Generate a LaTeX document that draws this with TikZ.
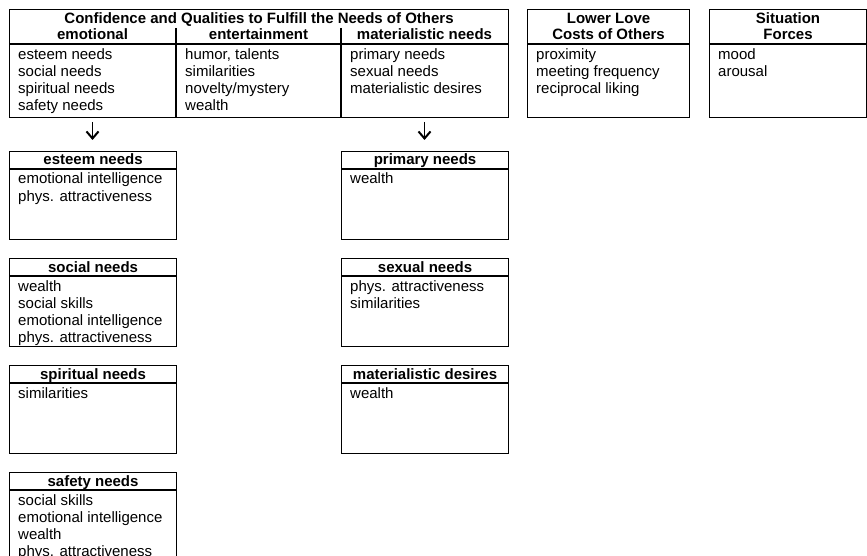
\documentclass[tikz,border=0pt]{standalone}
\usepackage{fontspec}
\setmainfont{Liberation Sans}
\usetikzlibrary{calc,arrows.meta}
\tikzset{
 frame/.style={draw=black, line width=1.1pt, rectangle, inner sep=0pt, anchor=north west},
 ttl/.style={font=\fontsize{15}{17}\selectfont\bfseries, inner sep=0pt, anchor=base},
 itm/.style={font=\fontsize{15}{17}\selectfont, inner sep=0pt, anchor=base west},
 rule/.style={draw=black, line width=1.1pt},
 downarrow/.style={draw=black, line width=1.5pt, -{Straight Barb[length=7pt,width=12pt,line width=2pt]}}
}
\newcommand\needbox[5]{%
 \node[frame, minimum width=167pt, minimum height=88pt] (#1) at (#2,#3) {};
 \node[ttl] (#1t) at ($(#1.north)+(0,14)$) {#4};
 \draw[rule] ($(#1.north west)+(0,18)$) -- ($(#1.north east)+(0,18)$);
 \foreach \s [count=\k] in {#5} {\node[itm] (#1i\k) at ($(#1.north west)+(9,33+17*\k-17)$) {\s};}
}
\begin{document}
\begin{tikzpicture}[x=1pt,y=-1pt]
\useasboundingbox (0,0) rectangle (867,556);
\clip (0,0) rectangle (867,556);
% top main box
\node[frame, minimum width=499pt, minimum height=108pt] (conf) at (9,9) {};
\node[ttl] (conft) at ($(conf.north)+(0,14.5)$) {Confidence and Qualities to Fulfill the Needs of Others};
\draw[rule] ($(conf.north west)+(167,19)$) -- ($(conf.south west)+(167,0)$);
\draw[rule] ($(conf.north west)+(332,19)$) -- ($(conf.south west)+(332,0)$);
\draw[rule] ($(conf.north west)+(0,35)$) -- ($(conf.north east)+(0,35)$);
\node[ttl] (h1) at ($(conf.north west)+(83.5,31)$) {emotional};
\node[ttl] (h2) at ($(conf.north west)+(249.5,31)$) {entertainment};
\node[ttl] (h3) at ($(conf.north west)+(415.5,31)$) {materialistic needs};
\foreach \s [count=\k] in {esteem needs, social needs, spiritual needs, safety needs}
  {\node[itm] (ca\k) at ($(conf.north west)+(9,50.5+17*\k-17)$) {\s};}
\foreach \s [count=\k] in {{humor, talents}, similarities, novelty/mystery, wealth}
  {\node[itm] (cb\k) at ($(conf.north west)+(176,50.5+17*\k-17)$) {\s};}
\foreach \s [count=\k] in {primary needs, sexual needs, materialistic desires}
  {\node[itm] (cc\k) at ($(conf.north west)+(341,50.5+17*\k-17)$) {\s};}
% lower love box
\node[frame, minimum width=162pt, minimum height=108pt] (love) at (527,9) {};
\node[ttl] (lovet1) at ($(love.north)+(0,14.5)$) {Lower Love};
\node[ttl] (lovet2) at ($(love.north)+(0,31)$) {Costs of Others};
\draw[rule] ($(love.north west)+(0,35)$) -- ($(love.north east)+(0,35)$);
\foreach \s [count=\k] in {proximity, meeting frequency, reciprocal liking}
  {\node[itm] (lv\k) at ($(love.north west)+(9,50.5+17*\k-17)$) {\s};}
% situation box
\node[frame, minimum width=157pt, minimum height=108pt] (sit) at (709,9) {};
\node[ttl] (sitt1) at ($(sit.north)+(0,14.5)$) {Situation};
\node[ttl] (sitt2) at ($(sit.north)+(0,31)$) {Forces};
\draw[rule] ($(sit.north west)+(0,35)$) -- ($(sit.north east)+(0,35)$);
\foreach \s [count=\k] in {mood, arousal}
  {\node[itm] (st\k) at ($(sit.north west)+(9,50.5+17*\k-17)$) {\s};}
% arrows
\coordinate (a1s) at (92.5,122);
\coordinate (a1e) at (92.5,140);
\coordinate (a2s) at (424.5,122);
\coordinate (a2e) at (424.5,140);
\draw[downarrow] (a1s) -- (a1e);
\draw[downarrow] (a2s) -- (a2e);
% lower boxes
\needbox{esteem}{9}{151}{esteem needs}{emotional intelligence, phys. attractiveness}
\needbox{social}{9}{258}{social needs}{wealth, social skills, emotional intelligence, phys. attractiveness}
\needbox{spirit}{9}{365}{spiritual needs}{similarities}
\needbox{safety}{9}{472}{safety needs}{social skills, emotional intelligence, wealth, phys. attractiveness}
\needbox{primary}{341}{151}{primary needs}{wealth}
\needbox{sexual}{341}{258}{sexual needs}{phys. attractiveness, similarities}
\needbox{matdes}{341}{365}{materialistic desires}{wealth}
\end{tikzpicture}
\end{document}
